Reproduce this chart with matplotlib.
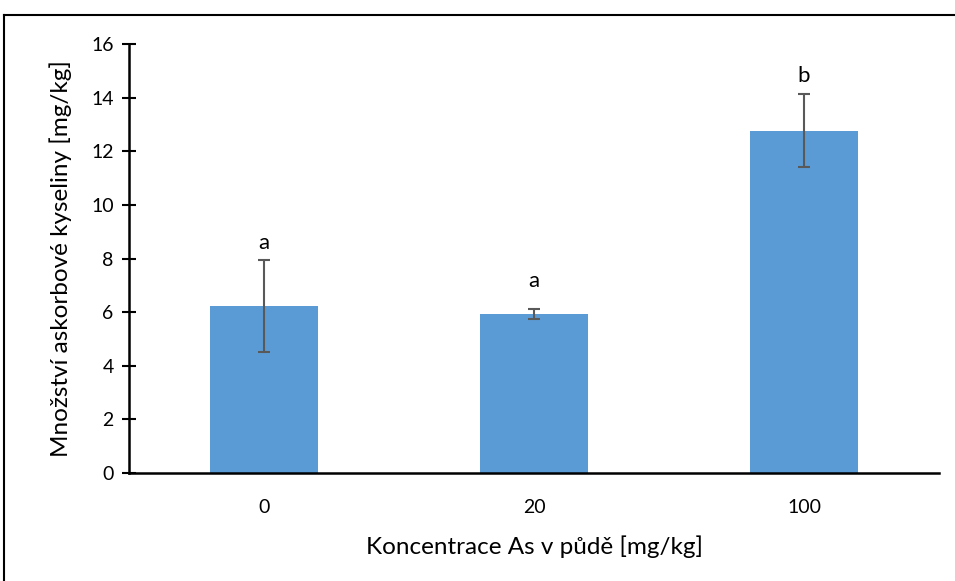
import matplotlib.pyplot as plt
from matplotlib.lines import Line2D
import numpy as np

# concentration groups and measured values
categories = ['0', '20', '100']
means = [6.22, 5.93, 12.78]
errors = [1.72, 0.18, 1.36]
letters = ['a', 'a', 'b']
letter_y = [8.36, 6.93, 14.6]

yticks = [0, 2, 4, 6, 8, 10, 12, 14, 16]

plt.rcParams['font.family'] = ['Lato', 'DejaVu Sans']

fig = plt.figure(figsize=(9.55, 5.81), dpi=100)
ax = fig.add_axes([129 / 955, 1 - 472.7 / 581, 810 / 955, (472.7 - 44.3) / 581])

x = np.arange(len(categories))
ax.bar(x, means, width=0.4, color='#5B9BD5', zorder=2)
ax.errorbar(x, means, yerr=errors, fmt='none', ecolor='#595959',
            elinewidth=1.5, capsize=4.5, capthick=1.5, zorder=3)

for xi, ly, lab in zip(x, letter_y, letters):
    ax.text(xi, ly, lab, ha='center', va='baseline', fontsize=16)

ax.set_xlim(-0.5, 2.5)
ax.set_ylim(0, 16)
ax.set_yticks(yticks)
ax.set_xticks(x)
ax.set_xticklabels(categories)
ax.tick_params(axis='y', direction='inout', length=10, width=1.5, labelsize=14, pad=6)
ax.tick_params(axis='x', length=0, labelsize=14, pad=19)

for s in ['top', 'right']:
    ax.spines[s].set_visible(False)
for s in ['left', 'bottom']:
    ax.spines[s].set_linewidth(1.8)

ax.set_xlabel('Koncentrace As v půdě [mg/kg]', fontsize=17.5, labelpad=14)
ax.set_ylabel('Množství askorbové kyseliny [mg/kg]', fontsize=17.5, labelpad=14)

# outer chart frame (extends past the right and bottom edges)
fig.add_artist(Line2D([4 / 955, 4 / 955], [0, 1 - 15 / 581], color='black', lw=1.5))
fig.add_artist(Line2D([4 / 955, 1], [1 - 15 / 581, 1 - 15 / 581], color='black', lw=1.5))

fig.savefig('out.png', dpi=100)
